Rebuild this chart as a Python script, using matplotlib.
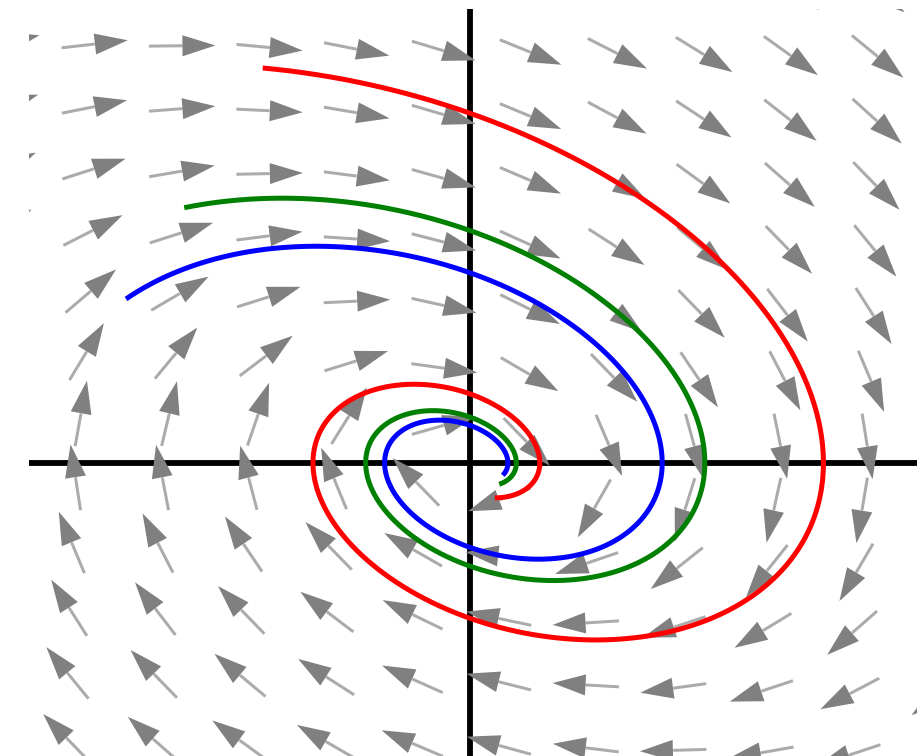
import numpy as np
import matplotlib.pyplot as plt

# linear system  x' = A x  (damped oscillator, stable spiral)
A = np.array([[0.0, 2.0],
              [-2.0, -1.0]])

# initial conditions of the three orbits and how long each is followed
orbit_colors = ['red', 'green', 'blue']
orbit_x0 = [-2.35, -3.24, -3.90]
orbit_y0 = [6.36, 4.11, 2.64]
t_end = 4.8

# window (data units) and direction-field grid
x_lim = (-5.0, 5.068)
y_lim = (-4.72, 7.31)
grid_x = -4.444 + 0.991 * np.arange(-1, 11)
grid_y = 6.715 - 1.0306 * np.arange(-1, 12)

W, H, DPI = 917, 756, 100
ARROW_LEN = 66.0   # px, whole arrow
HEAD_LEN = 33.0    # px
HEAD_W = 21.0      # px


def field(p):
    return A @ p


def rk4(p0, t1, n=2000):
    h = t1 / n
    p = np.array(p0, float)
    pts = [p]
    for _ in range(n):
        k1 = field(p)
        k2 = field(p + h / 2 * k1)
        k3 = field(p + h / 2 * k2)
        k4 = field(p + h * k3)
        p = p + h / 6 * (k1 + 2 * k2 + 2 * k3 + k4)
        pts.append(p)
    return np.array(pts)


fig = plt.figure(figsize=(W / DPI, H / DPI), dpi=DPI)
ax = fig.add_axes([29 / W, 0, (W - 29) / W, (H - 9) / H])
ax.set_xlim(*x_lim)
ax.set_ylim(*y_lim)
ax.axis('off')

# pixels per data unit, so arrows keep a fixed on-screen length
sx = ax.get_position().width * W / (x_lim[1] - x_lim[0])
sy = ax.get_position().height * H / (y_lim[1] - y_lim[0])

X, Y = np.meshgrid(grid_x, grid_y)
U = A[0, 0] * X + A[0, 1] * Y
V = A[1, 0] * X + A[1, 1] * Y
pu, pv = U * sx, V * sy
norm = np.hypot(pu, pv)
ex, ey = pu / norm / sx, pv / norm / sy   # data offset of one pixel along the arrow

# each arrow is anchored a quarter of the way along its length
tx = X - 0.25 * ARROW_LEN * ex
ty = Y - 0.25 * ARROW_LEN * ey
shaft = ARROW_LEN - HEAD_LEN
bx = tx + shaft * ex
by = ty + shaft * ey

# light, thin shafts
ax.quiver(tx, ty, shaft * ex, shaft * ey,
          angles='xy', scale_units='xy', scale=1, pivot='tail',
          units='dots', width=3.0, headwidth=1, headlength=0, headaxislength=0,
          color='#ababab', zorder=2)
# solid triangular heads
hw = 1.0
ax.quiver(bx, by, (HEAD_LEN + 0.5) * ex, (HEAD_LEN + 0.5) * ey,
          angles='xy', scale_units='xy', scale=1, pivot='tail',
          units='dots', width=hw, headwidth=HEAD_W / hw,
          headlength=HEAD_LEN / hw, headaxislength=HEAD_LEN / hw,
          color='#808080', zorder=2)

ax.axhline(0, color='black', lw=4.2, zorder=1)
ax.axvline(0, color='black', lw=4.2, zorder=1)

for c, x0, y0 in zip(orbit_colors, orbit_x0, orbit_y0):
    path = rk4((x0, y0), t_end)
    ax.plot(path[:, 0], path[:, 1], color=c, lw=3.6, solid_capstyle='butt', zorder=3)

fig.savefig('out.png', dpi=DPI)
